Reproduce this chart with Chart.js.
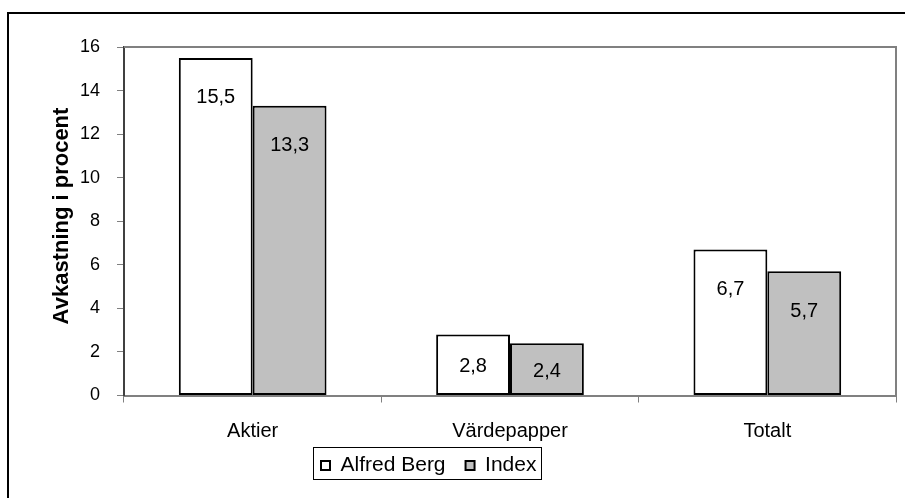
<!DOCTYPE html>
<html>
<head>
<meta charset="utf-8">
<script src="https://cdn.jsdelivr.net/npm/chart.js@4"></script>
<style>
  html, body { margin: 0; padding: 0; background: #fff; }
  canvas { display: block; }
</style>
</head>
<body>
<canvas id="myChart" width="905" height="498"></canvas>
<script>
// Data
var categories = ['Aktier', 'Värdepapper', 'Totalt'];
var alfredBerg = [15.5, 2.8, 6.7];
var indexValues = [13.3, 2.4, 5.7];
var seriesNames = ['Alfred Berg', 'Index'];
var yAxisTitle = 'Avkastning i procent';

var FONT = "'Liberation Sans', Arial, sans-serif";

function fmt(v) {
    return v.toFixed(1).replace('.', ',');
}

// frame, plot border, y-axis title, value labels and legend box
var decorations = {
    id: 'decorations',
    afterUpdate: function(chart) {
        var legend = chart.legend;
        if (!legend || !legend.legendHitBoxes.length) return;
        // move the legend a bit left and up, like the original
        var dx = 321 - legend.legendHitBoxes[0].left;
        var dy = -10;
        legend.left += dx;
        legend.right += dx;
        legend.top += dy;
        legend.bottom += dy;
        legend.legendHitBoxes.forEach(function(h) { h.left += dx; h.top += dy; });
    },
    beforeDraw: function(chart) {
        var ctx = chart.ctx;
        ctx.save();
        ctx.strokeStyle = '#000';
        ctx.lineWidth = 2;
        ctx.beginPath();
        ctx.moveTo(8, chart.height + 5);
        ctx.lineTo(8, 13);
        ctx.lineTo(chart.width + 5, 13);
        ctx.stroke();
        ctx.restore();
    },
    afterDatasetsDraw: function(chart) {
        var ctx = chart.ctx;
        var area = chart.chartArea;
        ctx.save();
        // top and right edges of the plot
        ctx.strokeStyle = '#808080';
        ctx.lineWidth = 2;
        ctx.beginPath();
        ctx.moveTo(area.left, area.top);
        ctx.lineTo(area.right, area.top);
        ctx.lineTo(area.right, area.bottom);
        ctx.stroke();

        // value labels inside the bars
        ctx.fillStyle = '#000';
        ctx.font = '20px ' + FONT;
        ctx.textAlign = 'center';
        ctx.textBaseline = 'middle';
        chart.data.datasets.forEach(function(ds, i) {
            chart.getDatasetMeta(i).data.forEach(function(bar, j) {
                var y = Math.min(bar.y + 40, (bar.y + bar.base) / 2 + 2);
                ctx.fillText(fmt(ds.data[j]), bar.x, y);
            });
        });

        // y-axis title
        ctx.font = 'bold 22px ' + FONT;
        ctx.textBaseline = 'alphabetic';
        ctx.translate(68, 216);
        ctx.rotate(-Math.PI / 2);
        ctx.fillText(yAxisTitle, 0, 0);
        ctx.restore();
    },
    afterDraw: function(chart) {
        var legend = chart.legend;
        if (!legend || !legend.legendHitBoxes.length) return;
        var boxes = legend.legendHitBoxes;
        var first = boxes[0], last = boxes[boxes.length - 1];
        var mid = first.top + first.height / 2;
        var ctx = chart.ctx;
        ctx.save();
        ctx.strokeStyle = '#000';
        ctx.lineWidth = 1;
        var l = Math.round(first.left - 8) + 0.5;
        var r = Math.round(last.left + last.width + 5) + 0.5;
        var t = Math.round(mid - 19) + 0.5;
        var b = Math.round(mid + 13) + 0.5;
        ctx.strokeRect(l, t, r - l, b - t);
        ctx.restore();
    }
};

var ctx = document.getElementById('myChart').getContext('2d');
var myChart = new Chart(ctx, {
    type: 'bar',
    data: {
        labels: categories,
        datasets: [{
            label: seriesNames[0],
            data: alfredBerg,
            backgroundColor: '#ffffff',
            borderColor: '#000000',
            borderWidth: 2,
            borderSkipped: false
        }, {
            label: seriesNames[1],
            data: indexValues,
            backgroundColor: '#c0c0c0',
            borderColor: '#000000',
            borderWidth: 2,
            borderSkipped: false
        }]
    },
    options: {
        responsive: false,
        animation: false,
        events: [],
        categoryPercentage: 0.574,
        barPercentage: 1,
        layout: {
            padding: { top: 47, right: 9, bottom: 2, left: 0 }
        },
        scales: {
            x: {
                grid: {
                    offset: true,
                    drawOnChartArea: false,
                    tickLength: 7,
                    color: '#808080',
                    lineWidth: 1
                },
                border: { color: '#808080', width: 2 },
                ticks: {
                    color: '#000',
                    padding: 17,
                    font: { family: FONT, size: 20 }
                },
                afterFit: function(scale) { scale.height = 49.5; }
            },
            y: {
                min: 0,
                max: 16,
                ticks: {
                    stepSize: 2,
                    color: '#000',
                    padding: 17,
                    font: { family: FONT, size: 18 }
                },
                grid: {
                    drawOnChartArea: false,
                    tickLength: 7,
                    color: '#808080',
                    lineWidth: 1
                },
                border: { color: '#404040', width: 2 },
                afterFit: function(scale) { scale.width = 124; }
            }
        },
        plugins: {
            title: { display: false },
            tooltip: { enabled: false },
            legend: {
                position: 'bottom',
                labels: {
                    boxWidth: 9,
                    boxHeight: 9,
                    padding: 20,
                    color: '#000',
                    font: { family: FONT, size: 21 }
                }
            }
        }
    },
    plugins: [decorations]
});
</script>
</body>
</html>
